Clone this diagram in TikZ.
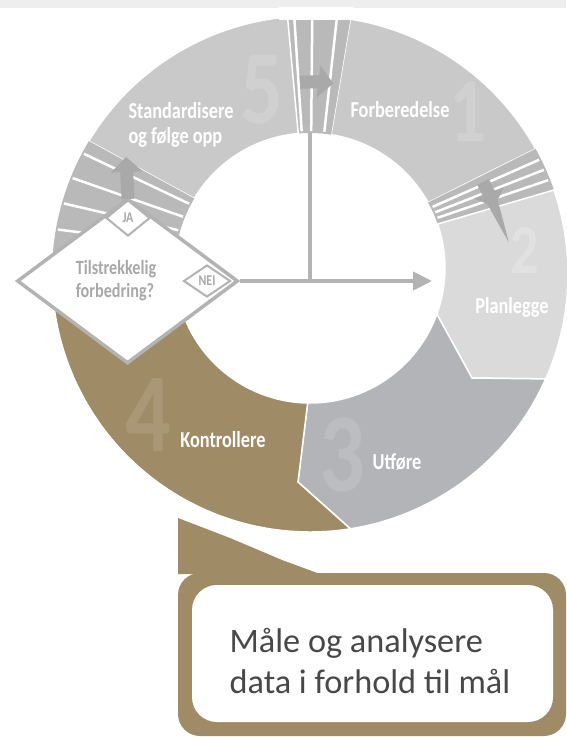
\documentclass[tikz,border=0pt]{standalone}
\usepackage{fontspec}
\setmainfont{Carlito}
\newfontfamily\segfont[FakeStretch=0.8]{Carlito}
\usetikzlibrary{calc}
\usetikzlibrary{positioning}
\usetikzlibrary{shapes.geometric}
\usetikzlibrary{arrows.meta}
\definecolor{lysgraa}{HTML}{C9C9C9}
\definecolor{plangraa}{HTML}{DADADA}
\definecolor{utgraa}{HTML}{B3B4B8}
\definecolor{brun}{HTML}{9F8C66}
\definecolor{bro}{HTML}{B9B9B9}
\definecolor{mork}{HTML}{A9A9A9}
\definecolor{strek}{HTML}{B3B3B3}
\definecolor{tekst}{HTML}{A8A8A8}
\definecolor{kant}{HTML}{EEEEEE}
\definecolor{maal}{HTML}{484848}
\newcommand{\sektor}[3]{\fill[#3] ($(O)+(#1:258)$) arc[start angle=#1, end angle=#2, radius=258] -- ($(I)+(#2:135)$) arc[start angle=#2, end angle=#1, radius=135] -- cycle;}
\tikzset{seg/.style={draw=white, line width=0.03cm},
         stripe/.style={draw=white, line width=0.05cm},
         pil/.style={draw=mork, line width=0.26cm, -{Triangle[width=0.62cm, length=0.3cm]}},
         lbl/.style={text=white, align=left, inner sep=0, font=\segfont\bfseries\fontsize{13}{14.5}\selectfont},
         num/.style={inner sep=0, font=\segfont\bfseries\fontsize{#1}{#1}\selectfont},
         beslutt/.style={diamond, draw=strek, fill=white, line width=0.07cm, inner sep=0},
         svar/.style={diamond, draw=strek, fill=white, line width=0.04cm, inner sep=0, text=tekst, font=\segfont\bfseries\fontsize{8.5}{9}\selectfont},
         flyt/.style={draw=strek, line width=0.08cm},
         flytpil/.style={flyt, -{Triangle[width=0.36cm, length=0.38cm]}}}

\begin{document}
\begin{tikzpicture}[x=0.02cm, y=0.02cm]
  \useasboundingbox (0,0) rectangle (566,-737);
  \fill[kant] (0,0) rectangle (566,-8);
  \coordinate (O) at (310,-274);
  \coordinate (I) at (310,-268);
  \sektor{81}{29}{lysgraa, seg}
  \sektor{29}{19}{bro}
  \sektor{95}{81}{bro}
  \sektor{149}{95}{lysgraa, seg}
  \sektor{188}{149}{bro}
  \fill[plangraa, seg] ($(I)+(19:135)$) -- ($(O)+(19:258)$) arc[start angle=19, end angle=-24, radius=258]
    -- (472,-378) -- ($(I)+(-20:135)$) arc[start angle=-20, end angle=19, radius=135] -- cycle;
  \fill[utgraa, seg] ($(O)+(-24:258)$) arc[start angle=-24, end angle=-81, radius=258]
    -- (298,-482) -- ($(I)+(-91:135)$) arc[start angle=-91, end angle=-20, radius=135] -- (472,-378) -- cycle;
  \fill[brun, seg] ($(O)+(-81:258)$) arc[start angle=-81, end angle=-172, radius=258]
    -- ($(I)+(-172:135)$) arc[start angle=-172, end angle=-91, radius=135] -- (298,-482) -- cycle;
  \foreach \a in {84,89.5,93.5,21.5,24,26.5,152,158,164,170,176,182}
    \draw[stripe] ($(I)+(\a:137)$) -- ($(O)+(\a:256)$);
  \fill[white] (279,-7) rectangle (353,-20);
  \draw[pil] ($(O)+(93:192)$) arc[start angle=93, end angle=83, radius=192];
  \draw[pil] ($(O)+(28:196)$) arc[start angle=28, end angle=20, radius=196];

  \node[num=60, text=lysgraa!88!white] (N5) at (262,-90) {5};
  \node[num=52, text=lysgraa!88!white] (N1) at (468,-112) {1};
  \node[num=40, text=plangraa!82!white] (N2) at (525,-250) {2};
  \node[num=64, text=utgraa!88!white] (N3) at (342,-455) {3};
  \node[num=64, text=brun!90!white] (N4) at (148,-415) {4};
  \node[lbl] (L5) at (181,-125) {Standardisere\\og følge opp};
  \node[lbl] (L1) at (400,-110) {Forberedelse};
  \node[lbl] (L2) at (512,-307) {Planlegge};
  \node[lbl] (L3) at (397,-462) {Utføre};
  \node[lbl] (L4) at (223,-440) {Kontrollere};

  \node[beslutt, minimum width=4.42cm, minimum height=3.3cm] (D) at (127.5,-281) {};
  \node[lbl, text=tekst, font=\segfont\bfseries\fontsize{11.5}{13}\selectfont] (Dt) at (116,-281) {Tilstrekkelig\\forbedring?};
  \node[svar, minimum width=0.88cm, minimum height=0.72cm] (ja) at (128,-218) {JA};
  \node[svar, minimum width=0.94cm, minimum height=0.64cm] (nei) at (207,-281) {NEI};
  \coordinate (jatopp) at (126,-157);
  \draw[pil] (ja.north) -- (jatopp);
  \coordinate (inn) at (432,-281);
  \coordinate (topp) at ($(I)+(90:135)$);
  \draw[flytpil] (D.east) -- (inn);
  \draw[flyt] (topp) -- (topp |- inn);

  \fill[brun] (178,-518) -- (230,-538) -- (282,-560) -- (320,-574) -- (178,-574) -- cycle;
  \fill[brun, rounded corners=0.44cm] (178,-573) rectangle (566,-736);
  \fill[white, rounded corners=0.5cm] (192,-585) rectangle (553,-722);
  \node[align=left, inner sep=0, text=maal, font=\fontsize{19.5}{23}\selectfont] (T) at (370,-661) {Måle og analysere\\data i forhold til mål};
\end{tikzpicture}
\end{document}
